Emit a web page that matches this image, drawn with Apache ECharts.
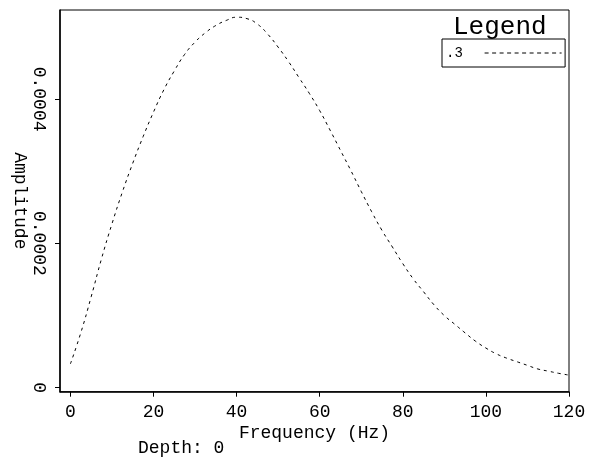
<!DOCTYPE html>
<html>
<head>
<meta charset="utf-8">
<script src="https://cdn.jsdelivr.net/npm/echarts@6/dist/echarts.min.js"></script>
<style>html,body{margin:0;padding:0;background:#fff;}#c{width:590px;height:459px;}</style>
</head>
<body>
<div id="c"></div>
<script>
const freqs = [0,2.5,5,7.5,10,12.5,15,17.5,20,22.5,25,27.5,30,32.5,35,37.5,40,42.5,45,47.5,50,52.5,55,57.5,60,62.5,65,67.5,70,72.5,75,77.5,80,82.5,85,87.5,90,92.5,95,97.5,100,102.5,105,107.5,110,112.5,115,117.5,120];
const amps = [0.000033,0.000076,0.000126,0.000179,0.000227,0.000271,0.000311,0.000348,0.000382,0.000413,0.000439,0.000462,0.000479,0.000492,0.000502,0.000509,0.0005135,0.0005115,0.000504,0.000490,0.000472,0.000452,0.000430,0.000408,0.000384,0.000357,0.000329,0.000301,0.000272,0.000244,0.000218,0.000195,0.000172,0.000151,0.000133,0.000115,0.000100,0.000088,0.000076,0.0000645,0.000055,0.000047,0.000041,0.000036,0.000031,0.000026,0.000023,0.000020,0.0000175];
const xTicks = [0,20,40,60,80,100,120];
const yTicks = [0,0.0002,0.0004];
const yTickLabels = ['0','0.0002','0.0004'];
const seriesName = '.3';

const FONT = 'Liberation Mono';
const chart = echarts.init(document.getElementById('c'), null, {renderer:'canvas'});
chart.setOption({
  animation:false,
  backgroundColor:'#fff',
  grid:{left:60,top:10,right:21,bottom:67.3,outerBoundsMode:'none',containLabel:false,show:true,borderColor:'#000',borderWidth:1},
  xAxis:{
    type:'value', min:-2.5, max:120,
    name:'Frequency (Hz)', nameLocation:'middle', nameGap:33, nameMoveOverlap:false,
    nameTextStyle:{fontFamily:FONT,fontSize:18,color:'#000'},
    axisLine:{show:true,onZero:false,lineStyle:{color:'#000',width:1.5}},
    axisTick:{show:true,length:5,inside:false,customValues:xTicks,lineStyle:{color:'#000'}},
    axisLabel:{customValues:xTicks,fontFamily:FONT,fontSize:18,color:'#000',margin:12},
    splitLine:{show:false}
  },
  yAxis:{
    type:'value', min:-0.0000055, max:0.0005235,
    name:'Amplitude', nameLocation:'middle', nameGap:31, nameRotate:-90, nameMoveOverlap:false,
    nameTextStyle:{fontFamily:FONT,fontSize:18,color:'#000'},
    axisLine:{show:true,onZero:false,lineStyle:{color:'#000',width:1.5}},
    axisTick:{show:true,length:5,inside:false,customValues:yTicks,lineStyle:{color:'#000'}},
    axisLabel:{customValues:yTicks,rotate:-90,fontFamily:FONT,fontSize:18,color:'#000',margin:12,
      formatter:function(v){const i=yTicks.findIndex(t=>Math.abs(t-v)<1e-9);return i>=0?yTickLabels[i]:'';}},
    splitLine:{show:false}
  },
  legend:{
    show:true, left:442, top:39, orient:'vertical', align:'right',
    itemWidth:77, itemHeight:14, padding:[7,3,7,4],
    borderColor:'#000', borderWidth:1,
    formatter:function(n){return n+'  ';},
    textStyle:{fontFamily:FONT,fontSize:14,color:'#000'},
    itemStyle:{opacity:0},
    lineStyle:{color:'#000',width:1,type:[4,3.5]},
    data:[seriesName]
  },
  graphic:[
    {type:'text',left:453,top:14,style:{text:'Legend',font:'26px "Liberation Mono"',fill:'#000'}},
    {type:'text',left:138,top:439,style:{text:'Depth: 0',font:'18px "Liberation Mono"',fill:'#000'}}
  ],
  series:[{
    name:seriesName, type:'line', data:freqs.map((f,i)=>[f,amps[i]]),
    smooth:0.5, showSymbol:false, symbol:'none',
    lineStyle:{color:'#000',width:1,type:[3,4]},
    itemStyle:{color:'#000'}
  }]
});
</script>
</body>
</html>
